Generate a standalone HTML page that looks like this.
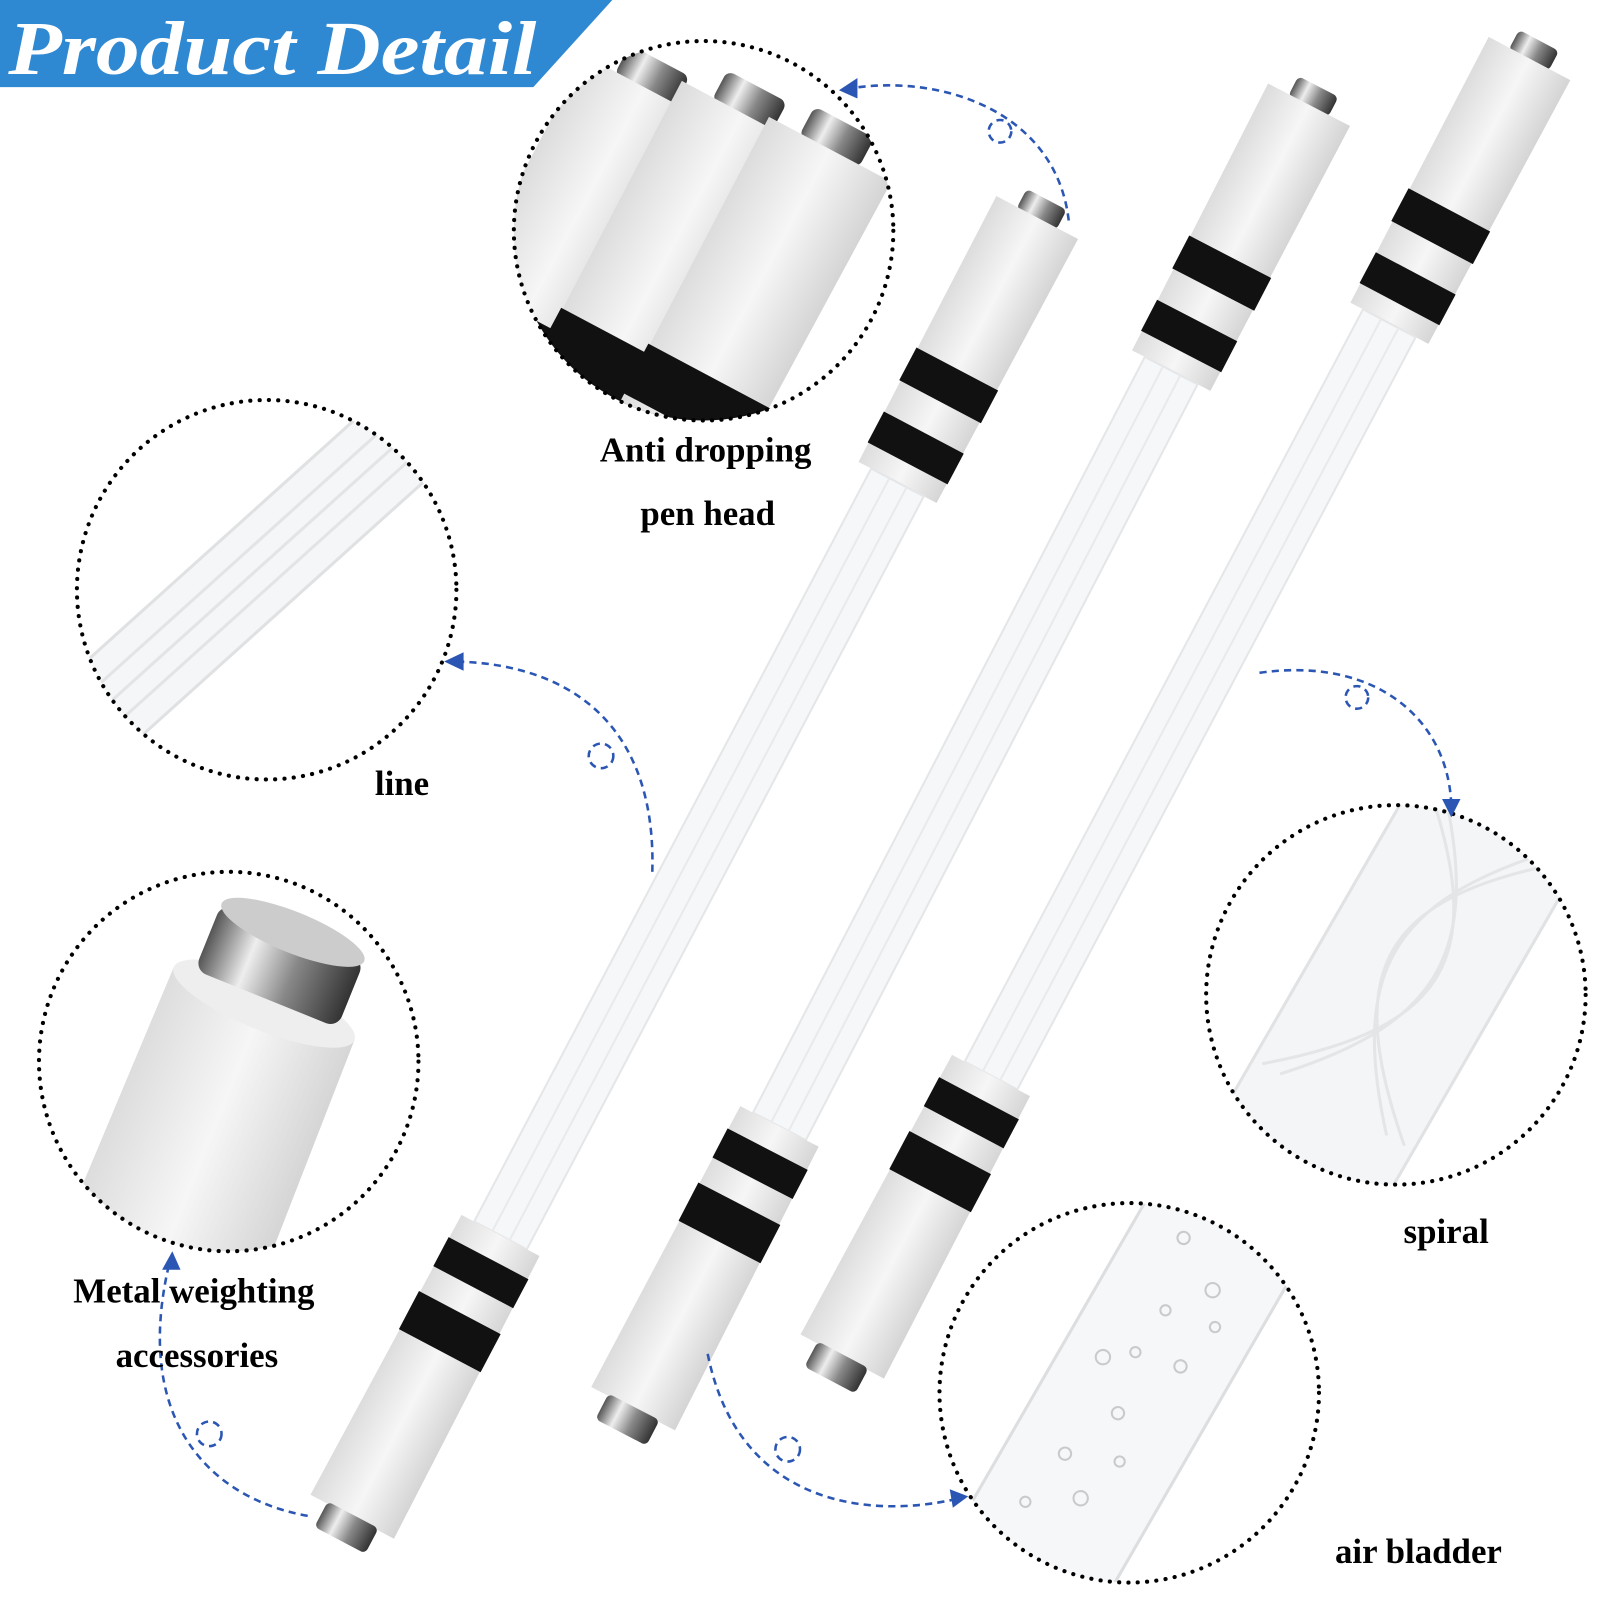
<!DOCTYPE html>
<html><head><meta charset="utf-8"><style>
html,body{margin:0;padding:0;background:#fff;overflow:hidden;width:1600px;height:1600px;}
svg{display:block}
text{font-family:"Liberation Serif",serif;font-weight:bold;}
</style></head><body>
<svg width="1600" height="1600" viewBox="0 0 1560 1560" xmlns="http://www.w3.org/2000/svg">
<defs>
<linearGradient id="metal" x1="0" x2="1">
<stop offset="0" stop-color="#555"/><stop offset=".3" stop-color="#eee"/><stop offset=".6" stop-color="#888"/><stop offset="1" stop-color="#333"/></linearGradient>
<linearGradient id="grip" x1="0" x2="1">
<stop offset="0" stop-color="#dcdcdc"/><stop offset=".5" stop-color="#f6f6f6"/><stop offset="1" stop-color="#d4d4d4"/></linearGradient>
<g id="pen">
 <rect x="-22" y="-12" width="44" height="22" rx="5" fill="url(#metal)"/>
 <path d="M-45,8 L45,8 L43,300 L-43,300 Z" fill="url(#grip)"/>
 <rect x="-45" y="175" width="90" height="36" fill="#111"/>
 <rect x="-44" y="245" width="88" height="34" fill="#111"/>
 <rect x="-29" y="300" width="58" height="830" fill="#f6f7f8" stroke="#e4e6e8" stroke-width="2"/>
 <line x1="-9" y1="300" x2="-9" y2="1130" stroke="#e8eaec" stroke-width="2"/>
 <line x1="10" y1="300" x2="10" y2="1130" stroke="#e8eaec" stroke-width="2"/>
 <path d="M-43,1130 L43,1130 L46,1440 L-46,1440 Z" fill="url(#grip)"/>
 <rect x="-44" y="1155" width="88" height="32" fill="#111"/>
 <rect x="-45" y="1215" width="90" height="42" fill="#111"/>
 <rect x="-28" y="1438" width="56" height="28" rx="5" fill="url(#metal)"/>
</g>
<clipPath id="c1"><circle cx="686" cy="225" r="185"/></clipPath>
<clipPath id="c2"><circle cx="260" cy="575" r="185"/></clipPath>
<clipPath id="c3"><circle cx="223" cy="1035" r="185"/></clipPath>
<clipPath id="c4"><circle cx="1361" cy="970" r="185"/></clipPath>
<clipPath id="c5"><circle cx="1101" cy="1358" r="185"/></clipPath>
</defs>
<rect width="1560" height="1560" fill="#fff"/>

<polygon points="0,0 597,0 520,85 0,85" fill="#2f88d2"/>
<text x="8" y="72" font-size="74" font-style="italic" fill="#fff" textLength="515" lengthAdjust="spacingAndGlyphs">Product Detail</text>

<g transform="translate(1015,205) rotate(27.8)"><use href="#pen"/></g>
<g transform="translate(1280,95) rotate(27.4)"><use href="#pen"/></g>
<g transform="translate(1495,50) rotate(27.9)"><use href="#pen"/></g>

<g clip-path="url(#c1)">
 <g transform="translate(635,75) rotate(28) scale(1.5)"><use href="#pen"/></g>
 <g transform="translate(730,100) rotate(28) scale(1.5)"><use href="#pen"/></g>
 <g transform="translate(815,135) rotate(28) scale(1.5)"><use href="#pen"/></g>
</g>
<g clip-path="url(#c2)">
 <g transform="translate(390,430) rotate(48)">
  <rect x="-45" y="0" width="90" height="500" fill="#f5f6f7" stroke="#dfe1e3" stroke-width="3"/>
  <line x1="-20" y1="0" x2="-20" y2="500" stroke="#e2e4e6" stroke-width="3"/>
  <line x1="0" y1="0" x2="0" y2="500" stroke="#e2e4e6" stroke-width="3"/>
  <line x1="20" y1="0" x2="20" y2="500" stroke="#e2e4e6" stroke-width="3"/>
 </g>
</g>
<g clip-path="url(#c3)">
 <g transform="translate(265,960) rotate(22)">
  <path d="M-95,20 L95,20 L100,400 L-100,400 Z" fill="url(#grip)"/>
  <ellipse cx="0" cy="20" rx="95" ry="26" fill="#eee"/>
  <rect x="-75" y="-55" width="150" height="70" rx="12" fill="url(#metal)"/>
  <ellipse cx="0" cy="-55" rx="75" ry="20" fill="#ccc"/>
 </g>
</g>
<g clip-path="url(#c4)">
 <g transform="translate(1460,800) rotate(30)">
  <rect x="-90" y="0" width="180" height="500" fill="#f4f5f6" stroke="#e0e2e4" stroke-width="3"/>
  <path d="M-80,0 C60,120 60,200 -80,320 M80,0 C-60,120 -60,200 80,320 M-60,0 C50,120 50,200 -60,320 M60,0 C-50,120 -50,200 60,320" fill="none" stroke="#e3e5e7" stroke-width="3"/>
 </g>
</g>
<g clip-path="url(#c5)">
 <g transform="translate(1210,1170) rotate(30)">
  <rect x="-80" y="0" width="160" height="500" fill="#f6f7f8" stroke="#dcdee0" stroke-width="3"/>
  <g fill="none" stroke="#c8cacd" stroke-width="2">
   <circle cx="-30" cy="60" r="6"/><circle cx="20" cy="90" r="7"/><circle cx="-10" cy="130" r="5"/><circle cx="30" cy="170" r="6"/><circle cx="-40" cy="200" r="7"/><circle cx="0" cy="240" r="6"/><circle cx="25" cy="280" r="5"/><circle cx="-25" cy="300" r="6"/><circle cx="10" cy="330" r="7"/><circle cx="-35" cy="360" r="5"/><circle cx="40" cy="120" r="5"/><circle cx="-15" cy="180" r="5"/>
  </g>
 </g>
</g>

<g fill="none" stroke="#000" stroke-width="4" stroke-dasharray="0.1 9" stroke-linecap="round">
 <circle cx="686" cy="225" r="185"/>
 <circle cx="260" cy="575" r="185"/>
 <circle cx="223" cy="1035" r="185"/>
 <circle cx="1361" cy="970" r="185"/>
 <circle cx="1101" cy="1358" r="185"/>
</g>

<g fill="none" stroke="#2b56b3" stroke-width="2.5" stroke-dasharray="7 5">
 <path d="M1042,215 C1030,110 920,72 830,86"/>
 <circle cx="975" cy="128" r="11"/>
 <path d="M636,850 C640,710 560,648 445,645"/>
 <circle cx="586" cy="737" r="12"/>
 <path d="M1228,656 C1340,640 1412,700 1415,785"/>
 <circle cx="1323" cy="680" r="11"/>
 <path d="M690,1320 C720,1470 850,1480 930,1462"/>
 <circle cx="768" cy="1413" r="12"/>
 <path d="M300,1478 C200,1460 130,1380 165,1232"/>
 <circle cx="204" cy="1398" r="12"/>
</g>
<g fill="#2b56b3">
 <polygon points="818,88 836,76 836,96"/>
 <polygon points="433,645 452,636 452,654"/>
 <polygon points="1415,797 1406,779 1424,779"/>
 <polygon points="944,1459 926,1452 929,1470"/>
 <polygon points="168,1220 158,1238 176,1238"/>
</g>

<g font-size="34" fill="#000" text-anchor="middle">
 <text x="688" y="450">Anti dropping</text>
 <text x="690" y="512">pen head</text>
 <text x="392" y="775">line</text>
 <text x="189" y="1270">Metal weighting</text>
 <text x="192" y="1333">accessories</text>
 <text x="1410" y="1212">spiral</text>
 <text x="1383" y="1524">air bladder</text>
</g>
</svg>
</body></html>
